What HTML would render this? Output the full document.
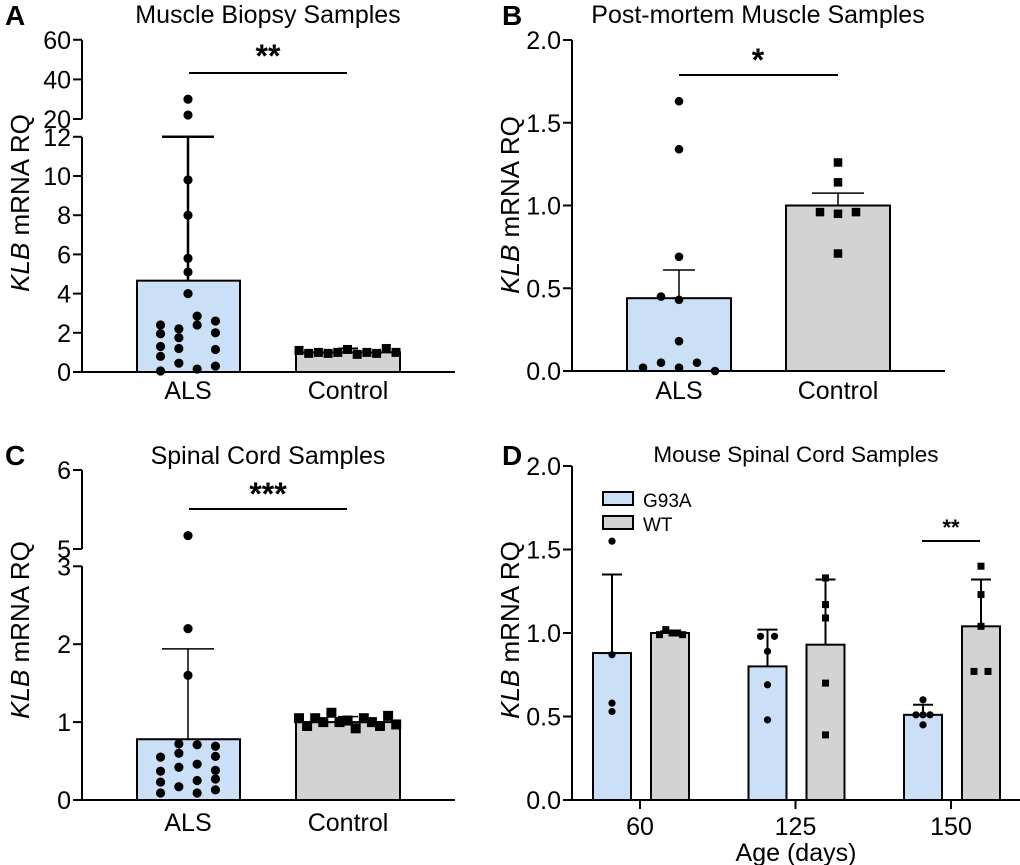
<!DOCTYPE html>
<html><head><meta charset="utf-8"><style>
body{margin:0;background:#fff;}
svg{display:block;font-family:"Liberation Sans",Arial,sans-serif;}
</style></head><body>
<svg id="fig" width="1020" height="865" viewBox="0 0 1020 865"></svg>
<script>
// ---- Panel A data ----
const aMeans = [4.66, 1.0];
const aErr = [12.0, 1.2];
const aAlsVals = [30, 22, 9.8, 8.0, 5.8, 5.1, 4.0, 2.4, 1.95, 1.3, 0.8, 0.05, 2.2, 1.75, 1.2, 0.45, 2.85, 2.4, 0.15, 2.6, 2.0, 1.15, 0.3];
const aAlsCol = [0,0,0,0,0,0,0,-1.5,-1.5,-1.5,-1.5,-1.5,-0.5,-0.5,-0.5,-0.5,0.5,0.5,0.5,1.5,1.5,1.5,1.5];
const aCtlVals = [1.1,0.95,1.0,0.95,1.0,1.15,0.9,1.0,0.95,1.2,1.0];
// ---- Panel B data ----
const bMeans = [0.44, 1.0];
const bErr = [0.61, 1.075];
const bAlsVals = [1.63, 1.34, 0.69, 0.43, 0.45, 0.18, 0.05, 0.02, 0.05, 0.02, 0.0];
const bAlsCol = [0,0,0,0,-1,0,-1,0,1,-2,2];
const bCtlVals = [1.26, 1.14, 0.96, 0.95, 0.96, 0.71];
const bCtlCol = [0,0,-1,0,1,0];
// ---- Panel C data ----
const cMeans = [0.78, 1.0];
const cErr = [1.94, 1.07];
const cAlsVals = [5.17, 2.2, 1.6, 0.55,0.37,0.23,0.09, 0.72,0.6,0.42,0.17, 0.71,0.46,0.25,0.09, 0.69,0.56,0.38,0.27,0.13];
const cAlsCol = [0,0,0,-1.5,-1.5,-1.5,-1.5,-0.5,-0.5,-0.5,-0.5,0.5,0.5,0.5,0.5,1.5,1.5,1.5,1.5,1.5];
const cCtlVals = [1.05,0.95,1.05,1.0,1.12,1.0,1.02,0.92,1.05,1.0,0.95,1.08,0.97];
// ---- Panel D data ----
const dAges = ["60","125","150"];
const dG93AMean = [0.88, 0.80, 0.51];
const dG93AErr = [1.35, 1.02, 0.57];
const dWTMean = [1.00, 0.93, 1.04];
const dWTErr = [1.01, 1.32, 1.32];
const dG93APts = [[1.55,0.87,0.58,0.53],[0.98,0.98,0.89,0.69,0.48],[0.60,0.51,0.51,0.51,0.45]];
const dG93ACol = [[0,0,0,0],[-1,1,0,0,0],[0,-1,0,1,0]];
const dWTPts = [[0.99,1.02,1.0,1.0,0.99],[1.33,1.17,1.09,0.70,0.39],[1.40,1.23,1.04,0.77,0.77]];
const dWTCol = [[-1.5,-0.6,0.3,1.1,1.8],[0,0,0,0,0],[0,0,0,-1,1]];

const NS="http://www.w3.org/2000/svg";
const svg=document.getElementById('fig');
const BLUE="#cbdff6", GRAY="#d3d3d3";
function mk(tag,attrs,parent,text){const e=document.createElementNS(NS,tag);for(const k in attrs)e.setAttribute(k,attrs[k]);if(text!==undefined)e.textContent=text;(parent||svg).appendChild(e);return e;}
function line(x1,y1,x2,y2,w,p){return mk('line',{x1,y1,x2,y2,stroke:'#000','stroke-width':w||2},p);}
function group(name){const g=mk('g',{});return g;}
function txt(p,x,y,s,size,anchor,extra){const a=Object.assign({x,y,'font-size':size,'text-anchor':anchor||'middle',fill:'#000'},extra||{});return mk('text',a,p,s);}
function ylab(p,x,y,size){const t=mk('text',{x:0,y:0,'font-size':size,'text-anchor':'middle',transform:`translate(${x},${y}) rotate(-90)`},p);
  mk('tspan',{'font-style':'italic'},t,'KLB');mk('tspan',{},t,' mRNA RQ');return t;}
function dot(p,x,y,r){const c=mk('circle',{cx:x,cy:y,r:r||4.6,fill:'#000'},p);}
function sq(p,x,y,s){s=s||9;const r=mk('rect',{x:x-s/2,y:y-s/2,width:s,height:s,fill:'#000'},p);}
function bar(p,x0,x1,y,y0,fill,name){const r=mk('rect',{x:x0,y:y,width:x1-x0,height:y0-y,fill:fill,stroke:'#000','stroke-width':2},p);}
function errbar(p,cx,ytop,ybase,capw,w){line(cx,ytop,cx,ybase,w||2,p);line(cx-capw/2,ytop,cx+capw/2,ytop,w||2,p);}
function label(p,x,y,s){const t=txt(p,x,y,s,28,'start',{'font-weight':'bold'});}
const TICK=25, TITLE=25, YT=26;

// ===== Panel A =====
(function(){
 const g=group('panel-a');
 const y=v=>v<=12?372-v*19.6:119-(v-20)*1.98;
 label(g,5,25,'A');
 const t=txt(g,268,23,'Muscle Biopsy Samples',TITLE);
 ylab(g,29,203,YT);
 const ax=82;
 line(ax,40,ax,119,2,g);line(ax,137,ax,373,2,g);
 [0,2,4,6,8,10,12,20,40,60].forEach(v=>{line(ax-9,y(v),ax,y(v),2,g);const tl=txt(g,ax-11,y(v)+9,String(v),TICK,'end');});
 bar(g,137,240,y(aMeans[0]),372,BLUE,'bar-als');
 bar(g,296,400,y(aMeans[1]),372,GRAY,'bar-control');
 errbar(g,188,y(aErr[0]),y(aMeans[0]),52,2.5);
 errbar(g,348,y(aErr[1]),y(aMeans[1]),20,2);
 aAlsVals.forEach((v,i)=>dot(g,188+aAlsCol[i]*18.3,y(v)));
 aCtlVals.forEach((v,i)=>sq(g,299+i*9.7,y(v),9));
 line(73,372,455,372,2,g);
 txt(g,188,399,'ALS',TICK);
 txt(g,348,399,'Control',TICK);
 line(189,73,347,73,2,g);
 txt(g,268,67,'**',32,'middle',{'font-weight':'bold'});
})();

// ===== Panel B =====
(function(){
 const g=group('panel-b');
 const y=v=>371-v*165.5;
 label(g,502,25,'B');
 txt(g,758,23,'Post-mortem Muscle Samples',TITLE);
 ylab(g,519,205,YT);
 const ax=572;
 line(ax,40,ax,372,2,g);
 [0,0.5,1,1.5,2].forEach(v=>{line(ax-9,y(v),ax,y(v),2,g);txt(g,ax-11,y(v)+9,v.toFixed(1),TICK,'end');});
 bar(g,627,731,y(bMeans[0]),371,BLUE,'bar-als');
 bar(g,786,890,y(bMeans[1]),371,GRAY,'bar-control');
 errbar(g,679,y(bErr[0]),y(bMeans[0]),32,1.5);
 errbar(g,838,y(bErr[1]),y(bMeans[1]),52,1.5);
 bAlsVals.forEach((v,i)=>dot(g,679+bAlsCol[i]*18,y(v),4.3));
 bCtlVals.forEach((v,i)=>sq(g,838+bCtlCol[i]*18,y(v),8.5));
 line(563,371,945,371,2,g);
 txt(g,679,399,'ALS',TICK);
 txt(g,838,399,'Control',TICK);
 line(679,75,838,75,2,g);
 txt(g,758,71,'*',32,'middle',{'font-weight':'bold'});
})();

// ===== Panel C =====
(function(){
 const g=group('panel-c');
 const y=v=>v<=3?800-v*77.9:549-(v-5)*79;
 label(g,5,465,'C');
 txt(g,268,464,'Spinal Cord Samples',TITLE);
 ylab(g,29,630,YT);
 const ax=82;
 line(ax,470,ax,549,2,g);line(ax,566,ax,801,2,g);
 [0,1,2,3,5,6].forEach(v=>{line(ax-9,y(v),ax,y(v),2,g);txt(g,ax-11,y(v)+9,String(v),TICK,'end');});
 bar(g,137,240,y(cMeans[0]),800,BLUE,'bar-als');
 bar(g,296,400,y(cMeans[1]),800,GRAY,'bar-control');
 errbar(g,188,y(cErr[0]),y(cMeans[0]),52,1.5);
 errbar(g,348,y(cErr[1]),y(cMeans[1]),20,1.5);
 cAlsVals.forEach((v,i)=>dot(g,188+cAlsCol[i]*18.3,y(v)));
 cCtlVals.forEach((v,i)=>sq(g,299+i*8.1,y(v),10));
 line(73,800,455,800,2,g);
 txt(g,188,831,'ALS',TICK);
 txt(g,348,831,'Control',TICK);
 line(189,509,347,509,2,g);
 txt(g,268,505,'***',32,'middle',{'font-weight':'bold'});
})();

// ===== Panel D =====
(function(){
 const g=group('panel-d');
 const y=v=>800-v*167;
 const x=i=>640+i*155.5;
 label(g,502,465,'D');
 txt(g,796,462,'Mouse Spinal Cord Samples',22.5);
 ylab(g,519,630,YT);
 const ax=572;
 line(ax,466,ax,801,2,g);
 [0,0.5,1,1.5,2].forEach(v=>{line(ax-9,y(v),ax,y(v),2,g);txt(g,ax-11,y(v)+9,v.toFixed(1),TICK,'end');});
 dAges.forEach((a,i)=>{
   const c=x(i);
   const gx=c-28, wx=c+30;
   bar(g,gx-19,gx+19,y(dG93AMean[i]),800,BLUE,'bar-g93a-'+a);
   bar(g,wx-19,wx+19,y(dWTMean[i]),800,GRAY,'bar-wt-'+a);
   errbar(g,gx,y(dG93AErr[i]),y(dG93AMean[i]),20,2);
   errbar(g,wx,y(dWTErr[i]),y(dWTMean[i]),20,2);
   dG93APts[i].forEach((v,j)=>dot(g,gx+dG93ACol[i][j]*7,y(v),3.6));
   dWTPts[i].forEach((v,j)=>sq(g,wx+dWTCol[i][j]*7,y(v),7));
   line(c,800,c,809,2,g);
   txt(g,c,835,a,TICK);
 });
 line(563,800,1020,800,2,g);
 txt(g,796,861,'Age (days)',TICK);
 const lg=mk('g',{},g);
 const r1=mk('rect',{x:603,y:492,width:30,height:13,fill:BLUE,stroke:'#000','stroke-width':2},lg);
 txt(lg,643,507,'G93A',19,'start');
 const r2=mk('rect',{x:603,y:516,width:30,height:13,fill:GRAY,stroke:'#000','stroke-width':2},lg);
 txt(lg,643,531,'WT',19,'start');
 line(922,541,980,541,2,g);
 txt(g,951,535,'**',22,'middle',{'font-weight':'bold'});
})();
</script>
</body></html>
